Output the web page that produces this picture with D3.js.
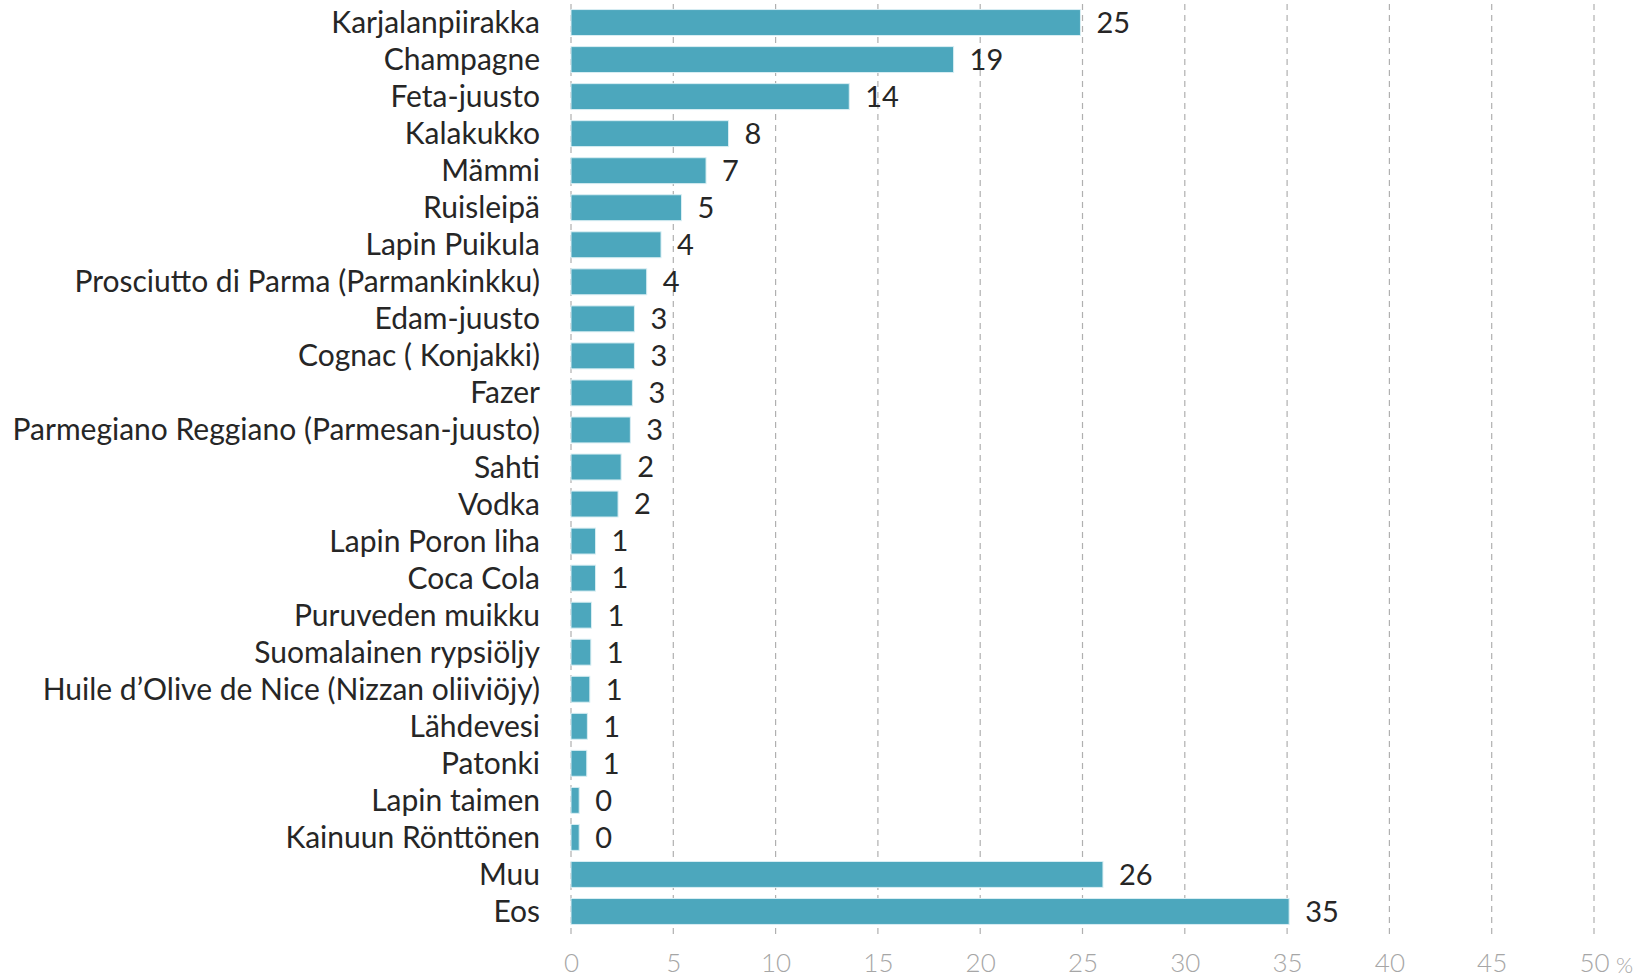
<!DOCTYPE html>
<html><head><meta charset="utf-8">
<script src="https://cdn.jsdelivr.net/npm/d3@7"></script>
<style>body{margin:0;background:#fff;}svg{display:block;}</style>
</head><body>
<svg id="c" width="1642" height="977"></svg>
<script>
const categories = ["Karjalanpiirakka","Champagne","Feta-juusto","Kalakukko","Mämmi","Ruisleipä","Lapin Puikula","Prosciutto di Parma (Parmankinkku)","Edam-juusto","Cognac ( Konjakki)","Fazer","Parmegiano Reggiano (Parmesan-juusto)","Sahti","Vodka","Lapin Poron liha","Coca Cola","Puruveden muikku","Suomalainen rypsiöljy","Huile d’Olive de Nice (Nizzan oliiviöjy)","Lähdevesi","Patonki","Lapin taimen","Kainuun Rönttönen","Muu","Eos"];
const values = [24.9,18.7,13.6,7.7,6.6,5.4,4.4,3.7,3.1,3.1,3.0,2.9,2.45,2.3,1.2,1.2,1.0,0.97,0.92,0.8,0.77,0.4,0.4,26.0,35.1];
const tickValues = [0,5,10,15,20,25,30,35,40,45,50];

const svg = d3.select("#c");
const x = d3.scaleLinear().domain([0,50]).range([571,1594]);
const y = d3.scaleBand().domain(categories).range([4,930]).paddingInner(0.3).paddingOuter(0.15);
const font = "Lato, 'Open Sans', sans-serif";

// gridlines
svg.append("g").selectAll("line").data(tickValues).join("line")
  .attr("x1",d=>x(d)).attr("x2",d=>x(d)).attr("y1",4).attr("y2",936)
  .attr("stroke","#b0b0b0").attr("stroke-width",1.2).attr("stroke-dasharray","6,5");

// bars
svg.append("g").selectAll("rect").data(categories).join("rect")
  .attr("x",x(0)).attr("y",d=>y(d)).attr("height",y.bandwidth())
  .attr("width",(d,i)=>x(values[i])-x(0))
  .attr("fill","#4CA7BD").attr("stroke","#d9eef3").attr("stroke-width",1);

// value labels
svg.append("g").selectAll("text").data(categories).join("text")
  .attr("x",(d,i)=>x(values[i])+16).attr("y",d=>y(d)+y.bandwidth()/2+3)
  .attr("dominant-baseline","middle")
  .attr("font-family",font).attr("font-size",29).attr("fill","#262626")
  .text((d,i)=>Math.round(values[i]));

// category labels
const yAxis = d3.axisLeft(y).tickSize(0).tickPadding(0);
const ga = svg.append("g").attr("transform","translate(540,0)").call(yAxis);
ga.select(".domain").remove();
ga.selectAll("text").attr("font-family",font).attr("font-size",30).attr("fill","#262626").attr("dy","0.35em");

// x axis
const xAxis = d3.axisBottom(x).tickValues(tickValues).tickSize(0).tickPadding(0);
const gx = svg.append("g").attr("transform","translate(0,963)").call(xAxis);
gx.select(".domain").remove();
gx.selectAll("text").attr("font-family",font).attr("font-weight",300).attr("font-size",26).attr("fill","#a6a6a6").attr("dy","0.35em").attr("y",0);
svg.append("text").attr("x",x(50)+22).attr("y",965).attr("dy","0.35em")
  .attr("font-family",font).attr("font-weight",300).attr("font-size",22).attr("fill","#a6a6a6").text("%");
</script>
</body></html>
